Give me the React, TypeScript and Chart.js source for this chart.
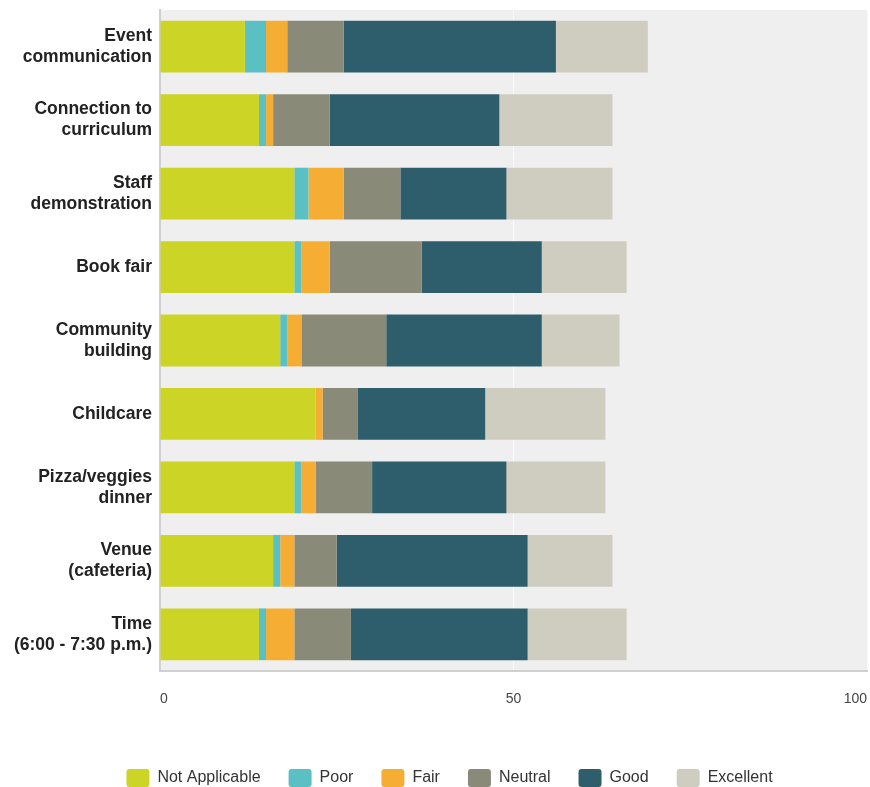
import React, { useEffect, useRef } from "react";
import { Chart, registerables } from "chart.js";

Chart.register(...registerables);

const categories: (string | string[])[] = [
  ["Event", "communication"],
  ["Connection to", "curriculum"],
  ["Staff", "demonstration"],
  "Book fair",
  ["Community", "building"],
  "Childcare",
  ["Pizza/veggies", "dinner"],
  ["Venue", "(cafeteria)"],
  ["Time", "(6:00 - 7:30 p.m.)"],
];

const notApplicable = [12, 14, 19, 19, 17, 22, 19, 16, 14];
const poor = [3, 1, 2, 1, 1, 0, 1, 1, 1];
const fair = [3, 1, 5, 4, 2, 1, 2, 2, 4];
const neutral = [8, 8, 8, 13, 12, 5, 8, 6, 8];
const good = [30, 24, 15, 17, 22, 18, 19, 27, 25];
const excellent = [13, 16, 15, 12, 11, 17, 14, 12, 14];

const seriesNames = ["Not Applicable", "Poor", "Fair", "Neutral", "Good", "Excellent"];
const seriesColors = ["#ccd425", "#5bc0c3", "#f5ae33", "#898a77", "#2e5e6c", "#cfcdc0"];

const xTicks = [0, 50, 100];

const bgPlugin = {
  id: "plotBg",
  beforeDraw(chart: any) {
    const { ctx, chartArea } = chart;
    if (!chartArea) return;
    ctx.save();
    ctx.fillStyle = "#efefef";
    ctx.fillRect(chartArea.left, chartArea.top, chartArea.right - chartArea.left, chartArea.bottom - chartArea.top);
    ctx.restore();
  },
};

const legendShift = {
  id: "legendShift",
  afterLayout(chart: any) {
    const lg = chart.legend;
    if (lg) {
      lg.left += 16;
      lg.right += 16;
    }
  },
};

export default function App() {
  const ref = useRef<HTMLCanvasElement | null>(null);

  useEffect(() => {
    document.body.style.margin = "0";
    document.body.style.overflow = "hidden";
    const values = [notApplicable, poor, fair, neutral, good, excellent];
    const chart = new Chart(ref.current as HTMLCanvasElement, {
      type: "bar",
      data: {
        labels: categories,
        datasets: seriesNames.map((name, i) => ({
          label: name,
          data: values[i],
          backgroundColor: seriesColors[i],
          borderWidth: 0,
          barPercentage: 1,
          categoryPercentage: 0.705,
        })),
      },
      options: {
        indexAxis: "y",
        animation: false,
        responsive: false,
        maintainAspectRatio: false,
        layout: { padding: { top: 10, right: 3, left: 0, bottom: 0 } },
        scales: {
          x: {
            stacked: true,
            min: 0,
            max: 100,
            afterBuildTicks(scale: any) {
              scale.ticks = xTicks.map((v) => ({ value: v }));
            },
            afterFit(scale: any) {
              scale.height = 70;
              scale.paddingLeft = 0;
              scale.paddingRight = 0;
            },
            ticks: {
              align: "inner",
              color: "#444",
              font: { family: "'Liberation Sans', Arial, sans-serif", size: 14 },
              padding: 20,
            },
            grid: { color: "#f9f9f9", lineWidth: 1, drawTicks: false },
            border: { display: true, color: "#d0d0d0", width: 2 },
          },
          y: {
            stacked: true,
            afterFit(scale: any) {
              scale.width = 160;
              scale.paddingTop = 0;
              scale.paddingBottom = 0;
            },
            ticks: {
              color: "#222",
              font: { family: "'Liberation Sans', Arial, sans-serif", size: 17.5, weight: "bold", lineHeight: 1.2 },
              padding: 8,
            },
            grid: { display: false, drawTicks: false },
            border: { display: true, color: "#d0d0d0", width: 2 },
          },
        },
        plugins: {
          legend: {
            position: "bottom",
            labels: {
              boxWidth: 23,
              boxHeight: 18,
              padding: 28,
              color: "#333",
              font: { family: "'Liberation Sans', Arial, sans-serif", size: 16 },
              useBorderRadius: true,
              borderRadius: 3,
            },
          },
          tooltip: { enabled: false },
        },
      },
      plugins: [bgPlugin, legendShift],
    } as any);
    return () => chart.destroy();
  }, []);

  return (
    <div style={{ width: 870, height: 797 }}>
      <canvas ref={ref} width={870} height={797} style={{ display: "block" }} />
    </div>
  );
}
